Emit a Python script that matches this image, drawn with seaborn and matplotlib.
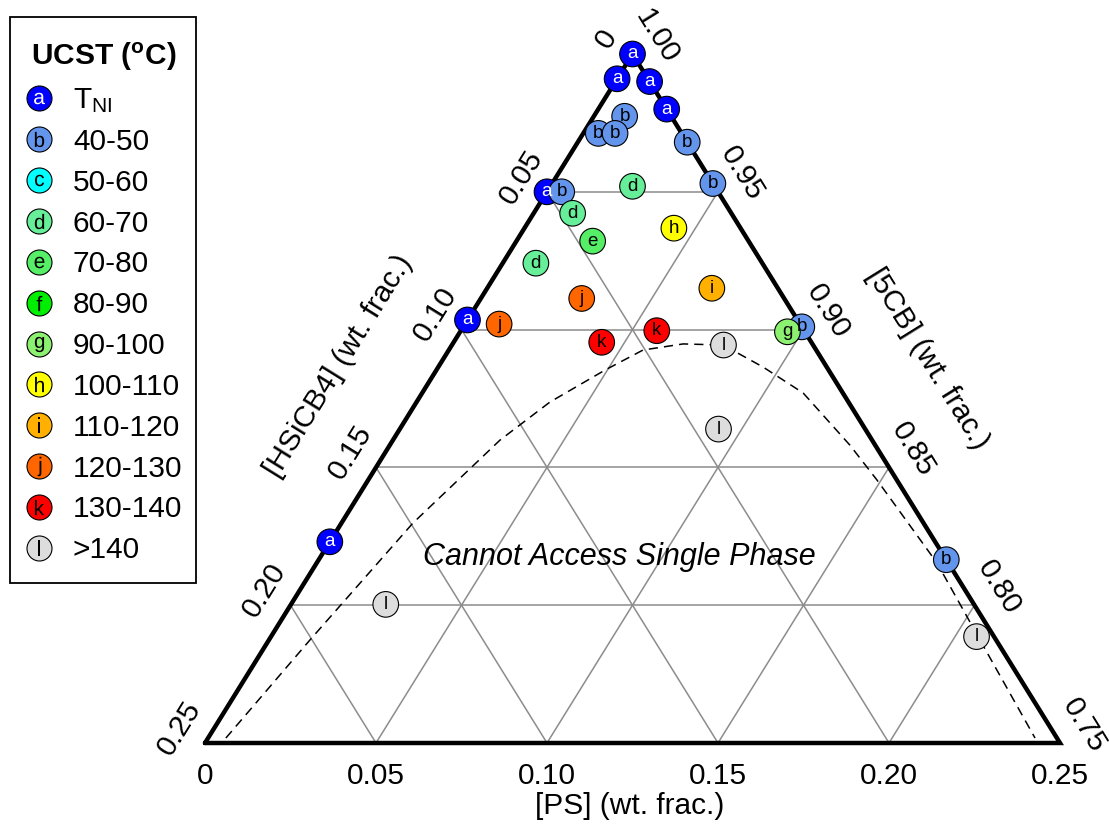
import numpy as np
import pandas as pd
import seaborn as sns
import matplotlib.pyplot as plt
import matplotlib.patches as mpatches
from matplotlib.lines import Line2D
from matplotlib.legend_handler import HandlerTuple

# Composiciones (fracción en peso): [PS], [HSiCB4]; [5CB] = 1 - resto
point_group = ['a', 'a', 'a', 'a', 'a', 'a', 'a',
               'b', 'b', 'b', 'b', 'b', 'b', 'b', 'b',
               'g', 'd', 'd', 'd', 'e', 'h', 'i', 'j', 'j', 'k', 'k',
               'l', 'l', 'l', 'l']
point_ps = [0.0, 0.0, 0.010, 0.020, 0.0, 0.0, 0.0,
            0.009, 0.0044, 0.0093, 0.032, 0.0043, 0.047, 0.099, 0.1835,
            0.0957, 0.024, 0.0114, 0.0097, 0.0223, 0.0437, 0.0657, 0.0295, 0.010, 0.0573, 0.0433,
            0.0794, 0.0932, 0.0277, 0.2063]
point_hsicb4 = [0.0, 0.009, 0.0, 0.0, 0.05, 0.0965, 0.177,
                0.0136, 0.0244, 0.0195, 0.0, 0.0457, 0.0, 0.0, 0.0,
                0.0051, 0.024, 0.0464, 0.0662, 0.0456, 0.0195, 0.0193, 0.0592, 0.088, 0.0431, 0.0613,
                0.0262, 0.0429, 0.172, 0.0051]

# Límite de fase (línea discontinua)
curve_ps = [0.0052, 0.0120, 0.0209, 0.0313, 0.0390, 0.0493, 0.0568, 0.0674,
            0.0793, 0.0950, 0.1114, 0.1345, 0.1488, 0.1814, 0.2079, 0.2418]
curve_hsicb4 = [0.2430, 0.2006, 0.1493, 0.1088, 0.0873, 0.0654, 0.0506, 0.0378,
                0.0263, 0.0186, 0.0116, 0.0074, 0.0058, 0.0033, 0.0047, 0.0064]

group_keys = ['a', 'b', 'c', 'd', 'e', 'f', 'g', 'h', 'i', 'j', 'k', 'l']
group_labels = [r'T$_{\mathregular{NI}}$', '40-50', '50-60', '60-70', '70-80', '80-90',
                '90-100', '100-110', '110-120', '120-130', '130-140', '>140']
group_colors = ['#0000FF', '#6495ED', '#00FFFF', '#66EE99', '#55EE66', '#00EE00',
                '#8CF070', '#FFFF00', '#FFB000', '#FF6600', '#FF0000', '#DDDDDD']

bottom_ticks = ['0', '0.05', '0.10', '0.15', '0.20', '0.25']
right_ticks = ['1.00', '0.95', '0.90', '0.85', '0.80', '0.75']
steps = [0.0, 0.05, 0.10, 0.15, 0.20, 0.25]


def to_xy(ps, hs):
    ps = np.asarray(ps, dtype=float)
    hs = np.asarray(hs, dtype=float)
    y = 0.25 - ps - hs          # [5CB] - 0.75
    return ps + y / 2, y


sns.set_style("white")
plt.rcParams['font.family'] = ['Liberation Sans', 'DejaVu Sans']
plt.rcParams['text.color'] = 'black'
plt.rcParams['mathtext.fontset'] = 'custom'
plt.rcParams['mathtext.rm'] = 'Liberation Sans'
plt.rcParams['mathtext.it'] = 'Liberation Sans:italic'
plt.rcParams['mathtext.bf'] = 'Liberation Sans:bold'

W, H = 1109, 834
fig = plt.figure(figsize=(W / 100, H / 100), dpi=100)
ax = fig.add_axes([0, 0, 1, 1])
ax.set_xlim(-205 / 3420, 904 / 3420)
ax.set_ylim(-91 / 2756, 743 / 2756)
ax.axis('off')

# Rejilla: extremos como pares ([PS], [HSiCB4])
for t in steps[1:-1]:
    for a, b in [((0, 0.25 - t), (0.25 - t, 0)),   # [5CB] constante
                 ((t, 0), (t, 0.25 - t)),          # [PS] constante
                 ((0, t), (0.25 - t, t))]:         # [HSiCB4] constante
        xs, ys = to_xy([a[0], b[0]], [a[1], b[1]])
        ax.plot(xs, ys, color='#8c8c8c', lw=1.1, zorder=1)

# Borde del triángulo
ex, ey = to_xy([0, 0.25, 0, 0], [0.25, 0, 0, 0.25])
ax.plot(ex, ey, color='black', lw=3.2, zorder=3, solid_joinstyle='miter')

# Línea discontinua
cx, cy = to_xy(curve_ps, curve_hsicb4)
sns.lineplot(x=cx, y=cy, sort=False, estimator=None, color='black', lw=1.1,
             linestyle=(0, (6, 4)), ax=ax, zorder=2)

# Puntos
px, py = to_xy(point_ps, point_hsicb4)
df = pd.DataFrame({'x': px, 'y': py, 'group': point_group})
palette = dict(zip(group_keys, group_colors))
sns.scatterplot(data=df, x='x', y='y', hue='group', palette=palette, s=340,
                edgecolor='black', linewidth=0.8, legend=False, ax=ax, zorder=5)
for _, r in df.iterrows():
    ax.text(r.x, r.y, r.group, ha='center', va='center', fontsize=13.5,
            color='white' if r.group == 'a' else 'black', zorder=6)

ax.text(0.1213, 0.0675, 'Cannot Access Single Phase', fontsize=22,
        style='italic', ha='center', va='center')

# Etiquetas de ejes
ang = np.degrees(np.arctan2(689, 427.5))
for i, v in enumerate(steps):
    bx, by = to_xy([v], [0.25 - v])
    ax.annotate(bottom_ticks[i], (bx[0], by[0]), xytext=(0, -33), textcoords='offset pixels',
                ha='center', va='center', fontsize=21.5)
    lx, ly = to_xy([0], [v])
    ax.annotate(bottom_ticks[i], (lx[0], ly[0]), xytext=(-26, 15), textcoords='offset pixels',
                ha='center', va='center', fontsize=21.5, rotation=ang, rotation_mode='anchor')
    rx, ry = to_xy([v], [0])
    ax.annotate(right_ticks[i], (rx[0], ry[0]), xytext=(24, 18), textcoords='offset pixels',
                ha='center', va='center', fontsize=21.5, rotation=-ang, rotation_mode='anchor')

ax.text(0.1243, -0.0228, '[PS] (wt. frac.)', fontsize=21.5, ha='center', va='center')
ax.text(0.0389, 0.1368, '[HSiCB4] (wt. frac.)', fontsize=21.5, ha='center', va='center',
        rotation=ang, rotation_mode='anchor')
ax.text(0.2114, 0.1395, '[5CB] (wt. frac.)', fontsize=21.5, ha='center', va='center',
        rotation=-ang, rotation_mode='anchor')

# Leyenda (letra dentro del círculo, tamaño según la forma de la letra)
letter_ms = {'a': 8.3, 'c': 8.3, 'e': 8.3, 'j': 14.0}
handles = []
for k, c in zip(group_keys, group_colors):
    circ = Line2D([], [], marker='o', ls='', ms=18, mfc=c, mec='black', mew=0.8)
    let = Line2D([], [], marker=r'$\mathregular{%s}$' % k, ls='', ms=letter_ms.get(k, 11.0),
                 color='white' if k == 'a' else 'black', mew=0)
    handles.append((circ, let))
leg = ax.legend(handles, group_labels, handler_map={tuple: HandlerTuple(ndivide=1)},
                loc='upper left', bbox_to_anchor=(24 / W, 1 - 41 / H),
                bbox_transform=fig.transFigure, borderaxespad=0, fontsize=21.5,
                title=r'UCST ($^{\mathbf{o}}$C)', title_fontproperties={'weight': 'bold', 'size': 21.5},
                frameon=False, handlelength=1.0, handletextpad=0.64, borderpad=0,
                labelspacing=0.43)

# Marco de la leyenda
fig.patches.append(mpatches.Rectangle((10 / W, 1 - 583 / H), 186 / W, 566 / H,
                                      transform=fig.transFigure, fill=False,
                                      edgecolor='black', lw=1.3, zorder=10))

fig.savefig('out.png', dpi=100)
